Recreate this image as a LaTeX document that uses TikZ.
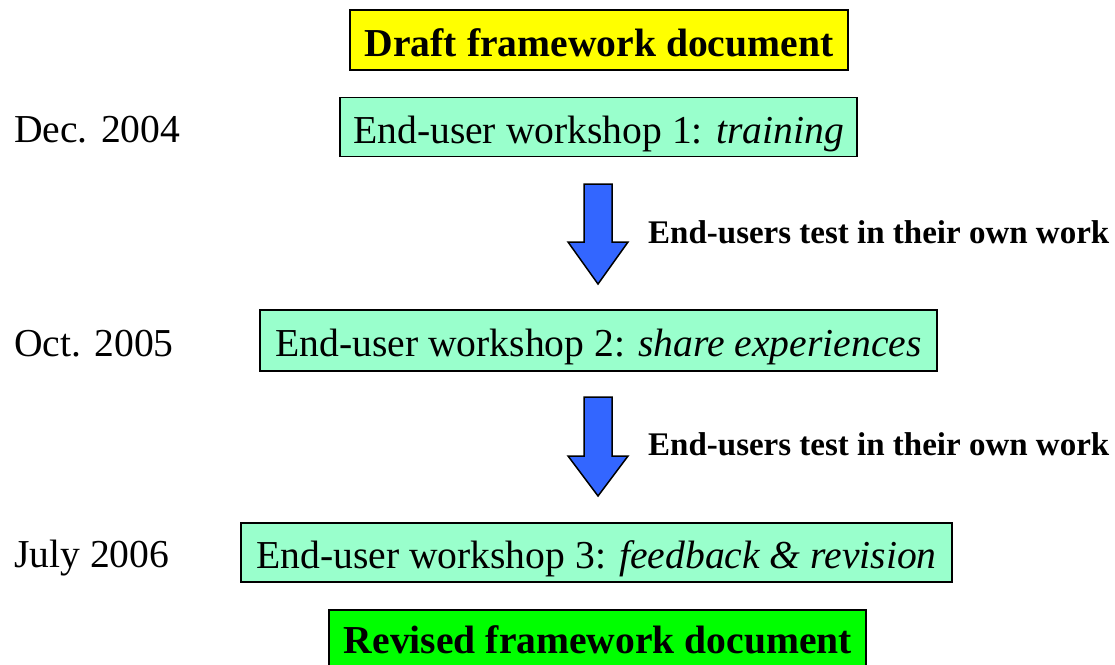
\documentclass[tikz,border=0pt]{standalone}
\usepackage{fontspec}
\setmainfont{Liberation Serif}
\definecolor{aqua}{HTML}{99FFCC}
\definecolor{yel}{HTML}{FFFF00}
\definecolor{grn}{HTML}{00FF00}
\definecolor{arrblue}{HTML}{3366FF}
\tikzset{
  box/.style={draw=black, line width=1.5pt, inner sep=0pt, align=center, text height=32pt, text depth=0pt, font=\fontsize{39.6}{48}\selectfont},
  wbox/.style={box, fill=aqua},
  datetext/.style={anchor=base west, inner sep=0pt, font=\fontsize{39.6}{48}\selectfont},
  steplabel/.style={anchor=west, inner sep=0pt, font=\fontsize{33}{40}\selectfont\bfseries},
  blockarrow/.style={draw=black, line width=1.5pt, fill=arrblue, line join=miter}
}
\begin{document}
\begin{tikzpicture}[x=1pt,y=-1pt]
\useasboundingbox (0,0) rectangle (1115,664);
% boxes
\node[box, fill=yel, minimum width=498pt, minimum height=60pt, font=\fontsize{39.6}{48}\selectfont\bfseries] (draft) at (599,40) {Draft framework document};
\node[wbox, minimum width=517pt, minimum height=59pt] (w1) at (598.5,127) {End-user workshop 1: \textit{training}};
\node[wbox, minimum width=677pt, minimum height=61pt] (w2) at (598.5,340.5) {End-user workshop 2: \textit{share experiences}};
\node[wbox, minimum width=711pt, minimum height=59pt] (w3) at (596.5,552.5) {End-user workshop 3: \textit{feedback \& revision}};
\node[box, fill=grn, minimum width=537pt, minimum height=90pt, anchor=north] (rev) at (597.5,609) {};
\node[inner sep=0pt, anchor=base, font=\fontsize{39.6}{48}\selectfont\bfseries] (revt) at (598,653) {Revised framework document};
% dates
\node[datetext] (d1) at (14,142) {Dec. 2004};
\node[datetext] (d2) at (14,356) {Oct. 2005};
\node[datetext] (d3) at (14,567) {July 2006};
% block arrows
\coordinate (a1) at (598,184);
\coordinate (a2) at (598,397);
\draw[blockarrow] (a1) ++(-14,0) -- ++(28,0) -- ++(0,58) -- ++(16,0) -- ++(-30,42) -- ++(-30,-42) -- ++(16,0) -- cycle;
\draw[blockarrow] (a2) ++(-14,0) -- ++(28,0) -- ++(0,59) -- ++(16,0) -- ++(-30,40) -- ++(-30,-40) -- ++(16,0) -- cycle;
% labels
\node[steplabel] (l1) at (648,232) {End-users test in their own work};
\node[steplabel] (l2) at (648,444) {End-users test in their own work};
\end{tikzpicture}
\end{document}
